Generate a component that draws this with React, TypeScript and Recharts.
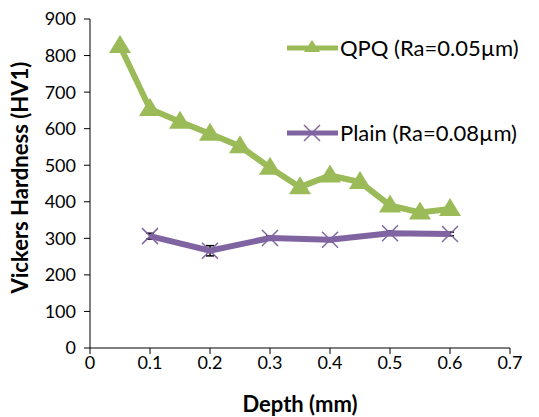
import { LineChart, Line, XAxis, YAxis, ErrorBar } from "recharts";

const qpqDepth = [0.05, 0.1, 0.15, 0.2, 0.25, 0.3, 0.35, 0.4, 0.45, 0.5, 0.55, 0.6];
const qpqHardness = [826, 654, 619, 586, 552, 493, 440, 472, 454, 390, 371, 380];
const qpqError = [4, 4, 3, 3, 4, 5, 3, 4, 3, 6, 3, 3];

const plainDepth = [0.1, 0.2, 0.3, 0.4, 0.5, 0.6];
const plainHardness = [306, 266, 301, 296, 314, 312];
const plainError = [8, 14, 6, 5, 6, 5];

const xTicks = [0, 0.1, 0.2, 0.3, 0.4, 0.5, 0.6, 0.7];
const yTicks = [0, 100, 200, 300, 400, 500, 600, 700, 800, 900];

const GREEN = "#9BBB59";
const PURPLE = "#8064A2";
const FONT = "Lato, 'Open Sans', sans-serif";

const qpqData = qpqDepth.map((d, i) => ({ depth: d, hv: qpqHardness[i], err: qpqError[i] }));
const plainData = plainDepth.map((d, i) => ({ depth: d, hv: plainHardness[i], err: plainError[i] }));

function Triangle({ cx, cy }: any) {
  if (cx == null || cy == null) return null;
  return <polygon points={`${cx},${cy - 11} ${cx - 11},${cy + 7} ${cx + 11},${cy + 7}`} fill={GREEN} />;
}

function Cross({ cx, cy }: any) {
  if (cx == null || cy == null) return null;
  const s = 8;
  return (
    <g stroke={PURPLE} strokeWidth={1.5}>
      <line x1={cx - s} y1={cy - s} x2={cx + s} y2={cy + s} />
      <line x1={cx - s} y1={cy + s} x2={cx + s} y2={cy - s} />
    </g>
  );
}

const legendRows = [
  { label: "QPQ (Ra=0.05µm)", color: GREEN, top: 36, marker: "tri" },
  { label: "Plain (Ra=0.08µm)", color: PURPLE, top: 121, marker: "x" },
];

function LegendBox() {
  return (
    <>
      {legendRows.map((r) => (
        <div key={r.label} style={{ position: "absolute", top: r.top, left: 285, display: "flex", alignItems: "center" }}>
          <svg width={55} height={24}>
            <line x1={2} y1={12} x2={53} y2={12} stroke={r.color} strokeWidth={5} />
            {r.marker === "tri" ? (
              <polygon points="27,4 19,16 35,16" fill={GREEN} />
            ) : (
              <Cross cx={27} cy={12} />
            )}
          </svg>
          <span style={{ fontFamily: FONT, fontSize: 22, color: "#000", lineHeight: "24px", whiteSpace: "nowrap" }}>{r.label}</span>
        </div>
      ))}
    </>
  );
}

export default function App() {
  return (
    <div style={{ position: "absolute", left: 0, top: 0, width: 539, height: 417, background: "#fff" }}>
      <LineChart width={539} height={417} margin={{ top: 19, right: 29, left: 30, bottom: 29 }}>
        <XAxis
          type="number"
          dataKey="depth"
          domain={[0, 0.7]}
          ticks={xTicks}
          interval={0}
          allowDuplicatedCategory={false}
          height={40}
          stroke="#000"
          tickSize={6}
          tick={{ fontFamily: FONT, fontSize: 18, fill: "#000" }}
          tickFormatter={(v: number) => String(v)}
          label={{ value: "Depth (mm)", position: "insideBottom", offset: -24, style: { fontFamily: FONT, fontSize: 22, fontWeight: 700, fill: "#000" } }}
        />
        <YAxis
          type="number"
          domain={[0, 900]}
          ticks={yTicks}
          interval={0}
          width={60}
          stroke="#000"
          tickSize={6}
          tickMargin={8}
          tick={{ fontFamily: FONT, fontSize: 18, fill: "#000" }}
          label={{ value: "Vickers Hardness (HV1)", angle: -90, position: "insideLeft", offset: -10, dy: 110, style: { fontFamily: FONT, fontSize: 22, fontWeight: 700, fill: "#000" } }}
        />
        <Line
          data={qpqData}
          dataKey="hv"
          name="QPQ"
          stroke={GREEN}
          strokeWidth={6}
          dot={<Triangle />}
          activeDot={false}
          isAnimationActive={false}
        >
          <ErrorBar dataKey="err" direction="y" width={4} stroke="#000" strokeWidth={1.5} />
        </Line>
        <Line
          data={plainData}
          dataKey="hv"
          name="Plain"
          stroke={PURPLE}
          strokeWidth={6}
          dot={<Cross />}
          activeDot={false}
          isAnimationActive={false}
        >
          <ErrorBar dataKey="err" direction="y" width={4} stroke="#000" strokeWidth={1.5} />
        </Line>
      </LineChart>
      <LegendBox />
    </div>
  );
}
